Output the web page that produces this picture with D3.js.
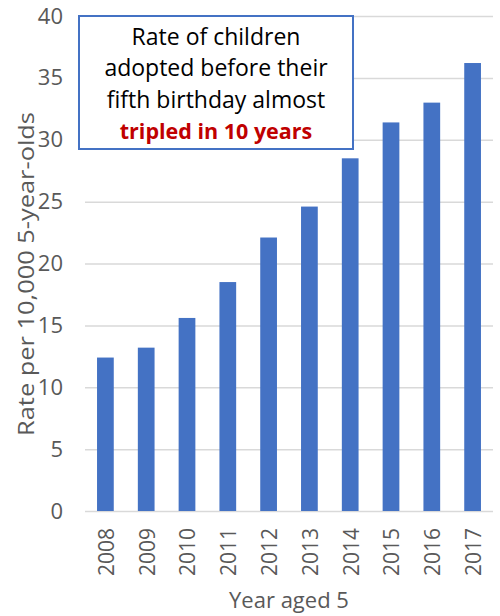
<!DOCTYPE html>
<html>
<head>
<meta charset="utf-8">
<script src="https://cdn.jsdelivr.net/npm/d3@7"></script>
<style>
  body { margin: 0; background: #fff; }
  text { font-family: 'Open Sans', sans-serif; }
</style>
</head>
<body>
<div id="chart"></div>
<script>
'use strict'

const years = ['2008', '2009', '2010', '2011', '2012', '2013', '2014', '2015', '2016', '2017'];
const rates = [12.4, 13.2, 15.6, 18.5, 22.1, 24.6, 28.5, 31.4, 33.0, 36.2];
const yTicks = [0, 5, 10, 15, 20, 25, 30, 35, 40];
const noteLines = ['Rate of children', 'adopted before their', 'fifth birthday almost'];
const noteHighlight = 'tripled in 10 years';

const W = 500, H = 616;
const margin = {top: 16, right: 7, bottom: 105, left: 85};
const width = W - margin.left - margin.right,
      height = H - margin.top - margin.bottom;

const svg = d3.select('#chart').append('svg')
  .attr('width', W)
  .attr('height', H);

const g = svg.append('g')
  .attr('transform', 'translate(' + [margin.left, margin.top] + ')');

const x = d3.scaleBand()
  .domain(years)
  .range([0, width])
  .paddingInner(0.59)
  .paddingOuter(0.295);

const y = d3.scaleLinear()
  .domain([0, 40])
  .range([height, 0]);

// gridlines + y labels
const yAxis = g.append('g')
  .call(d3.axisLeft(y).tickValues(yTicks).tickSize(-width).tickPadding(22))
yAxis.select('.domain').remove();
yAxis.selectAll('line').attr('stroke', '#d9d9d9').attr('stroke-width', 1.5);
yAxis.selectAll('text')
  .attr('fill', '#595959')
  .style('font-size', '22px');

// bars
g.append('g')
  .selectAll('rect')
  .data(rates)
  .enter()
  .append('rect')
  .attr('x', (d, i) => x(years[i]))
  .attr('y', d => y(d))
  .attr('width', x.bandwidth())
  .attr('height', d => height - y(d))
  .attr('fill', '#4472c4');

// x labels, rotated
const xAxis = g.append('g')
  .attr('transform', 'translate(0,' + height + ')')
  .call(d3.axisBottom(x).tickSize(0).tickPadding(0));
xAxis.select('.domain').remove();
xAxis.selectAll('text')
  .attr('fill', '#595959')
  .style('font-size', '21px')
  .attr('text-anchor', 'end')
  .attr('dy', '0.35em')
  .attr('transform', 'translate(1,17) rotate(-90)')
  .attr('x', 0)
  .attr('y', 0);

// axis titles
svg.append('text')
  .attr('x', margin.left + width / 2)
  .attr('y', 608)
  .attr('text-anchor', 'middle')
  .attr('fill', '#595959')
  .style('font-size', '22px')
  .text('Year aged 5');

// the original y title is stretched along its length
svg.append('text')
  .attr('transform', 'translate(' + [34, 274] + ') rotate(-90) scale(1.21,1)')
  .attr('text-anchor', 'middle')
  .attr('fill', '#595959')
  .style('font-size', '21px')
  .text('Rate per 10,000 5-year-olds');

// annotation box
const note = svg.append('g');
note.append('rect')
  .attr('x', 79).attr('y', 16)
  .attr('width', 274).attr('height', 133)
  .attr('fill', '#fff')
  .attr('stroke', '#4472c4')
  .attr('stroke-width', 2);

noteLines.forEach((t, i) => {
  note.append('text')
    .attr('x', 216)
    .attr('y', 45 + i * 31.4)
    .attr('text-anchor', 'middle')
    .attr('fill', '#000')
    .style('font-size', '23px')
    .text(t);
});
note.append('text')
  .attr('x', 216)
  .attr('y', 45 + 3 * 31.4)
  .attr('text-anchor', 'middle')
  .attr('fill', '#c00000')
  .style('font-size', '21.5px')
  .style('font-weight', 'bold')
  .text(noteHighlight);
</script>
</body>
</html>
